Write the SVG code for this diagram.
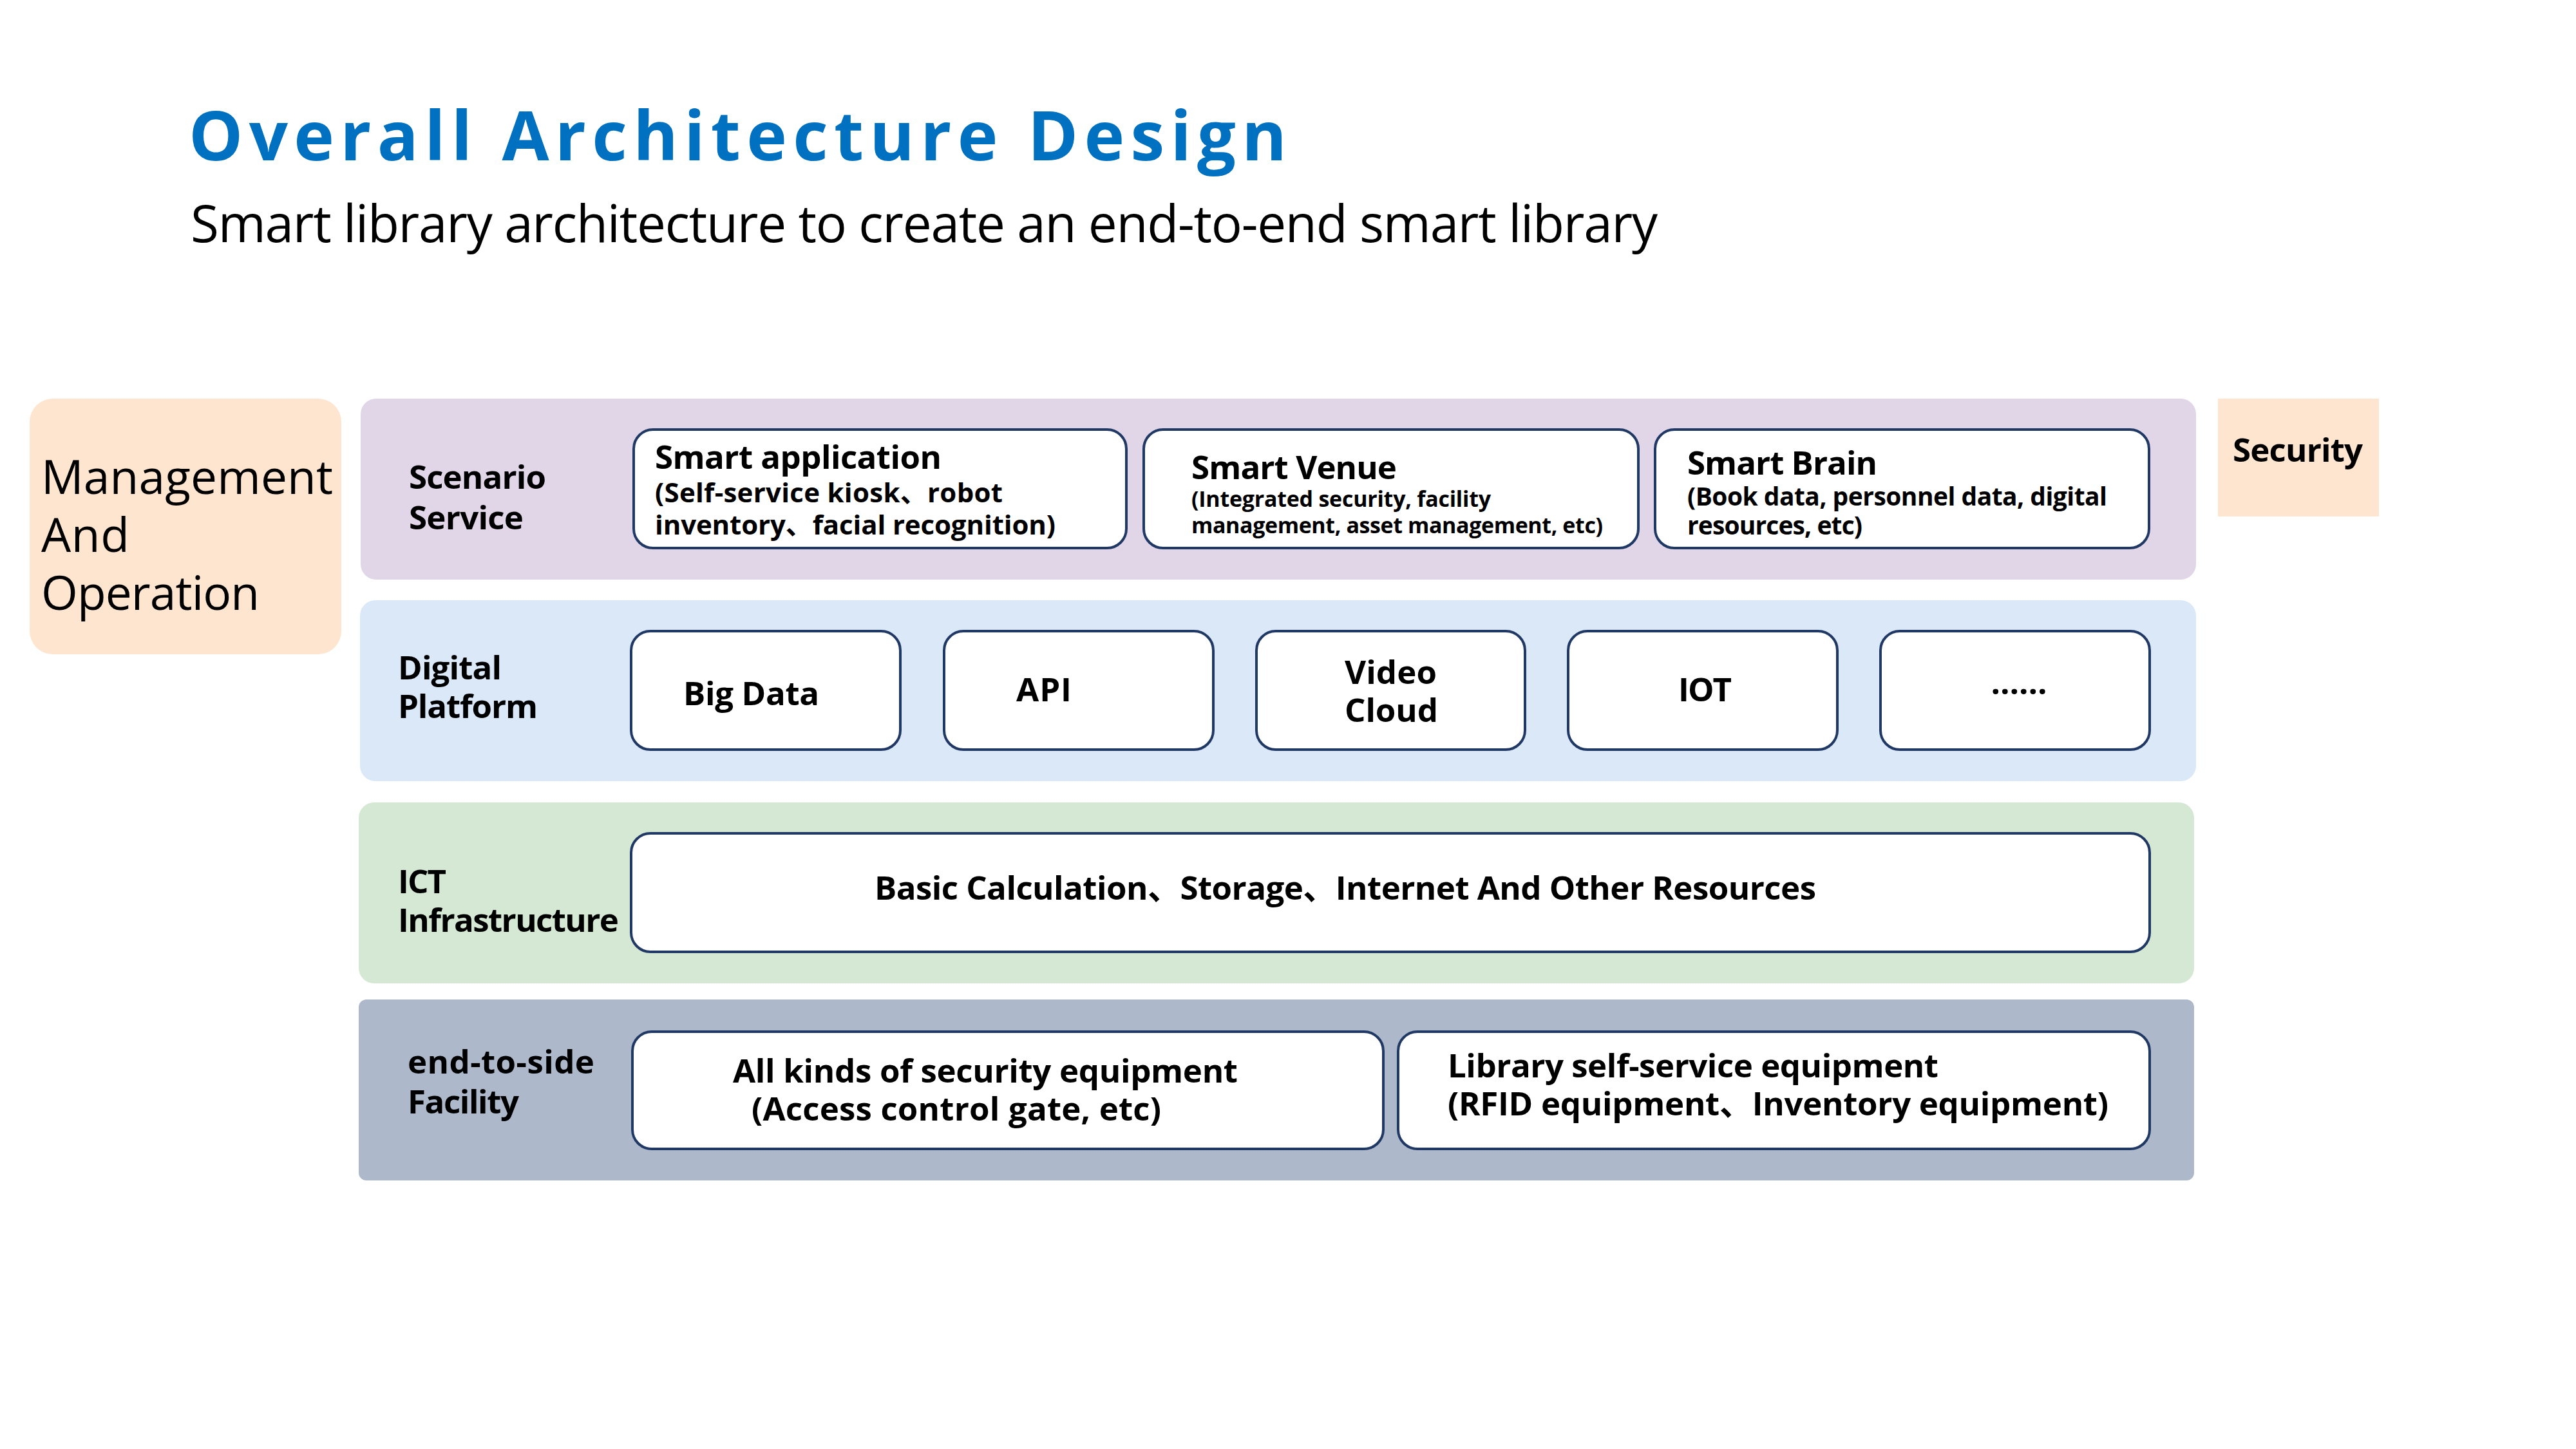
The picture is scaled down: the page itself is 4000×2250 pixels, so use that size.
<svg xmlns="http://www.w3.org/2000/svg" width="4000" height="2250" viewBox="0 0 4000 2250">
<style>
text{font-family:"Open Sans","Noto Sans","Noto Sans CJK SC",sans-serif;fill:#000}
.b{font-weight:bold;font-size:51px}
.box{fill:#fff;stroke:#203864;stroke-width:4}
.peach{fill:#FDE5D0}
</style>
<rect width="4000" height="2250" fill="#fff"/>
<g id="title">
<text x="293" y="249" font-size="106" font-weight="bold" style="fill:#0070C0" textLength="1705">Overall Architecture Design</text>
<text x="296" y="376" font-size="80" textLength="2278">Smart library architecture to create an end-to-end smart library</text>
</g>
<g id="management">
<rect x="46" y="619" width="484" height="397" rx="36" class="peach"/>
<text x="64" y="767" font-size="73" textLength="453">Management</text>
<text x="64" y="857" font-size="73" textLength="137">And</text>
<text x="64" y="947" font-size="73" textLength="339">Operation</text>
</g>
<g id="security">
<rect x="3444" y="619" width="250" height="183" class="peach"/>
<text x="3467" y="717" class="b" textLength="202">Security</text>
</g>
<g id="scenario-layer">
<rect x="560" y="619" width="2850" height="281" rx="24" fill="#E1D6E8"/>
<text x="635" y="759" class="b" textLength="213">Scenario</text>
<text x="635" y="822" class="b" textLength="178">Service</text>
</g>
<g id="smart-application">
<rect x="984" y="667" width="765" height="184" rx="30" class="box"/>
<text x="1017" y="728" class="b" textLength="445">Smart application</text>
<text x="1017" y="780" font-size="42" font-weight="bold" textLength="540">(Self-service kiosk、robot</text>
<text x="1017" y="830" font-size="42" font-weight="bold" textLength="622">inventory、facial recognition)</text>
</g>
<g id="smart-venue">
<rect x="1776" y="667" width="768" height="184" rx="30" class="box"/>
<text x="1850" y="744" class="b" textLength="319">Smart Venue</text>
<text x="1850" y="787" font-size="34" font-weight="bold" textLength="465">(Integrated security, facility</text>
<text x="1850" y="828" font-size="34" font-weight="bold" textLength="639">management, asset management, etc)</text>
</g>
<g id="smart-brain">
<rect x="2570" y="667" width="767" height="184" rx="30" class="box"/>
<text x="2620" y="737" class="b" textLength="295">Smart Brain</text>
<text x="2620" y="785" font-size="39" font-weight="bold" textLength="652">(Book data, personnel data, digital</text>
<text x="2620" y="830" font-size="39" font-weight="bold" textLength="272">resources, etc)</text>
</g>
<g id="digital-layer">
<rect x="559" y="932" width="2851" height="281" rx="24" fill="#DAE8F8"/>
<text x="618" y="1055" class="b" textLength="161">Digital</text>
<text x="618" y="1115" class="b" textLength="217">Platform</text>
</g>
<g id="big-data">
<rect x="980" y="980" width="418" height="184" rx="30" class="box"/>
<text x="1061" y="1095" class="b" textLength="211">Big Data</text>
</g>
<g id="api">
<rect x="1466" y="980" width="418" height="184" rx="30" class="box"/>
<text x="1578" y="1089" class="b" textLength="86">API</text>
</g>
<g id="video-cloud">
<rect x="1951" y="980" width="417" height="184" rx="30" class="box"/>
<text x="2088" y="1062" class="b" textLength="143">Video</text>
<text x="2088" y="1121" class="b" textLength="145">Cloud</text>
</g>
<g id="iot">
<rect x="2435" y="980" width="418" height="184" rx="30" class="box"/>
<text x="2606" y="1089" class="b" textLength="83">IOT</text>
</g>
<g id="more">
<rect x="2920" y="980" width="418" height="184" rx="30" class="box"/>
<text x="3135" y="1078" class="b" text-anchor="middle">……</text>
</g>
<g id="ict-layer">
<rect x="557" y="1246" width="2850" height="281" rx="24" fill="#D5E8D4"/>
<text x="618" y="1387" class="b" textLength="75">ICT</text>
<text x="618" y="1447" class="b" textLength="343">Infrastructure</text>
</g>
<g id="basic-resources">
<rect x="980" y="1294" width="2358" height="184" rx="30" class="box"/>
<text x="1358" y="1397" class="b" textLength="1462">Basic Calculation、Storage、Internet And Other Resources</text>
</g>
<g id="end-layer">
<rect x="557" y="1552" width="2850" height="281" rx="12" fill="#ADB9CA"/>
<text x="633" y="1667" class="b" textLength="290">end-to-side</text>
<text x="633" y="1729" class="b" textLength="173">Facility</text>
</g>
<g id="security-equipment">
<rect x="982" y="1602" width="1166" height="182" rx="30" class="box"/>
<text x="1138" y="1681" class="b" textLength="784">All kinds of security equipment</text>
<text x="1167" y="1740" class="b" textLength="636">(Access control gate, etc)</text>
</g>
<g id="self-service-equipment">
<rect x="2171" y="1602" width="1167" height="182" rx="30" class="box"/>
<text x="2248" y="1673" class="b" textLength="762">Library self-service equipment</text>
<text x="2248" y="1732" class="b" textLength="1026">(RFID equipment、Inventory equipment)</text>
</g>
<g id="connectors"/>
</svg>
